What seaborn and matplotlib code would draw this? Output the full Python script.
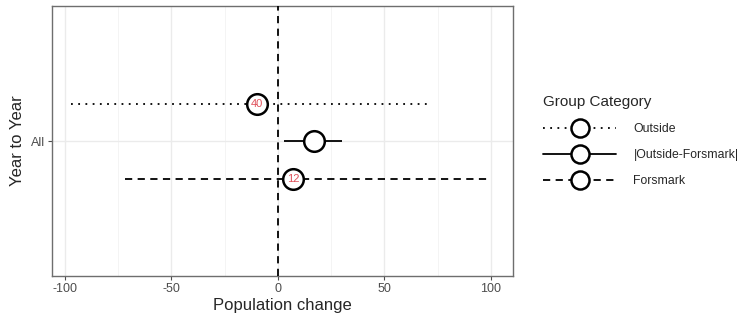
import pandas as pd
import matplotlib.pyplot as plt
import seaborn as sns
from matplotlib.lines import Line2D

# Datos
grupos = ["Outside", "|Outside-Forsmark|", "Forsmark"]
estimado = [-10, 17, 7]
limite_inf = [-97, 3, -72]
limite_sup = [71, 30, 100]
etiquetas_n = ["40", "", "12"]
estilos = [(0, (1, 3)), "-", (0, (4, 3))]
desplazamiento = [1 / 6, 0, -1 / 6]

df = pd.DataFrame({
    "grupo": grupos,
    "estimado": estimado,
    "inf": limite_inf,
    "sup": limite_sup,
    "n": etiquetas_n,
    "y": desplazamiento,
})

sns.set_style("white")
plt.rcParams["font.family"] = ["Liberation Sans", "DejaVu Sans"]

fig = plt.figure(figsize=(7.44, 3.2), dpi=100)
ax = fig.add_axes([0.07, 0.1375, 0.6195, 0.8435])

# Rejilla
for v in [-100, -50, 0, 50, 100]:
    ax.axvline(v, color="#EBEBEB", lw=1.0, zorder=0)
for v in [-75, -25, 25, 75]:
    ax.axvline(v, color="#F3F3F3", lw=0.6, zorder=0)
ax.axhline(0, color="#EBEBEB", lw=1.0, zorder=0)

# Intervalos
for i, fila in df.iterrows():
    ax.hlines(fila["y"], fila["inf"], fila["sup"], colors="black",
              linestyles=estilos[i], lw=1.3, zorder=2)

ax.axvline(0, color="black", lw=1.3, linestyle=(0, (4, 3)), zorder=3)

# Puntos
sns.scatterplot(
    data=df,
    x="estimado",
    y="y",
    s=220,
    color="white",
    edgecolor="black",
    linewidth=1.8,
    zorder=4,
    ax=ax,
    legend=False
)

for _, fila in df.iterrows():
    if fila["n"]:
        ax.text(fila["estimado"], fila["y"], fila["n"], color="#E0505A",
                fontsize=8, ha="center", va="center", zorder=5)

ax.set_xlim(-106, 110.3)
ax.set_ylim(-0.6, 0.6)
ax.set_xticks([-100, -50, 0, 50, 100])
ax.set_xticklabels(["-100", "-50", "0", "50", "100"])
ax.set_yticks([0])
ax.set_yticklabels(["All"])
ax.tick_params(axis="both", colors="#4D4D4D", labelsize=9, length=3,
               width=0.8, pad=2, bottom=True, left=True)
ax.set_xlabel("Population change", fontsize=12, labelpad=2)
ax.set_ylabel("Year to Year", fontsize=12, labelpad=4)

for lado in ax.spines.values():
    lado.set_color("#6E6E6E")
    lado.set_linewidth(1.0)

# Leyenda
manijas = [
    Line2D([0], [0], color="black", linestyle=estilos[i], lw=1.3,
           marker="o", markersize=13, markerfacecolor="white",
           markeredgecolor="black", markeredgewidth=1.8)
    for i in range(len(grupos))
]
fig.legend(
    manijas, grupos,
    title="Group Category",
    loc="upper left",
    bbox_to_anchor=(0.715, 0.738),
    frameon=False,
    handlelength=6.0,
    handletextpad=1.4,
    fontsize=8.8,
    title_fontsize=11,
    labelspacing=1.15,
    alignment="left"
)

fig.savefig("out.png", dpi=100)
